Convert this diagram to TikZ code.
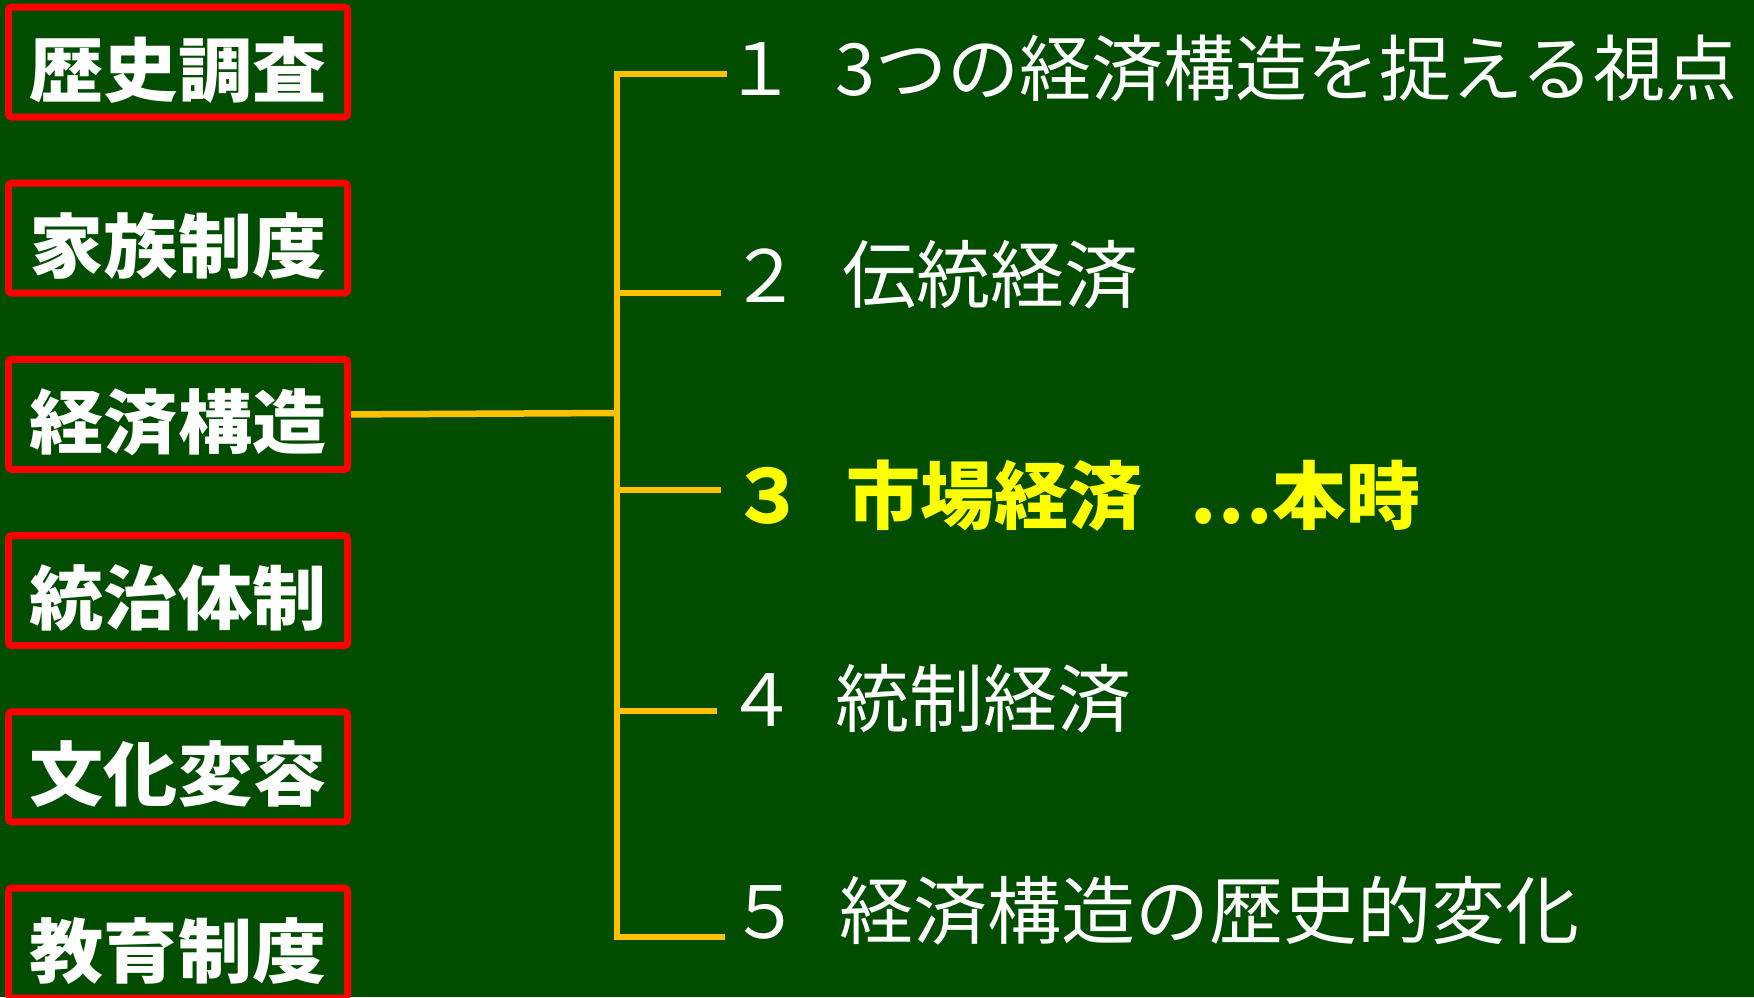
\documentclass[tikz,border=0pt]{standalone}
\usepackage{fontspec}
\newfontfamily\jp{Noto Sans CJK JP}
\newfontfamily\jpwide[FakeStretch=1.06]{Noto Sans CJK JP}
\definecolor{bg}{RGB}{0,77,0}
\definecolor{branch}{RGB}{255,192,0}
\definecolor{hl}{RGB}{255,255,0}
\begin{document}
\begin{tikzpicture}[x=1pt,y=-1pt,
  topic/.style={draw=red, line width=7pt, rounded corners=3pt,
    minimum width=339pt, minimum height=110pt, inner sep=0pt, text=white,
    text height=76pt, text depth=8pt,
    font=\jpwide\bfseries\fontsize{70pt}{70pt}\selectfont},
  itemnum/.style={anchor=base, inner sep=0pt, text=white,
    font=\jp\fontsize{72pt}{72pt}\selectfont},
  itemtext/.style={anchor=base west, inner sep=0pt, text=white,
    font=\jp\fontsize{74pt}{74pt}\selectfont},
  hot/.style={text=hl, font=\jp\bfseries\fontsize{74pt}{74pt}\selectfont},
  link/.style={draw=branch, line width=6.5pt}]
\fill[bg] (0,0) rectangle (1754,997);
\useasboundingbox (0,0) rectangle (1754,997);

% left topic boxes
\node[topic] (t1) at (178,62)    {歴史調査};
\node[topic] (t2) at (178,238.2) {家族制度};
\node[topic] (t3) at (178,414.4) {経済構造};
\node[topic] (t4) at (178,590.6) {統治体制};
\node[topic] (t5) at (178,766.8) {文化変容};
\node[topic] (t6) at (178,943)   {教育制度};

% bracket coordinates
\coordinate (top) at (617,74);
\coordinate (bot) at (617,937);
\coordinate (hub) at (617,413);
\coordinate (b2) at (617,293);
\coordinate (b3) at (617,490);
\coordinate (b4) at (617,711);
\coordinate (e1) at (727,74);
\coordinate (e2) at (721,293);
\coordinate (e3) at (721,490);
\coordinate (e4) at (717,711);
\coordinate (e5) at (725,937);

\draw[link] (t3.east) -- (hub);
\draw[link, line cap=rect] (top) -- (bot);
\draw[link] (top) -- (e1);
\draw[link] (b2) -- (e2);
\draw[link] (b3) -- (e3);
\draw[link] (b4) -- (e4);
\draw[link] (bot) -- (e5);

% items
\node[itemnum] (n1) at (760,95) {１};
\node[itemtext, font=\jp\fontsize{72pt}{72pt}\selectfont] (i1) at (835,95) {3つの経済構造を捉える視点};
\node[itemnum] (n2) at (765,302) {２};
\node[itemtext] (i2) at (842,302) {伝統経済};
\node[itemnum, hot] (n3) at (768,523) {３};
\node[itemtext, hot] (i3) at (846,523) {市場経済\hspace{47pt}…本時};
\node[itemnum] (n4) at (761,726) {４};
\node[itemtext] (i4) at (835,726) {統制経済};
\node[itemnum] (n5) at (765,938) {５};
\node[itemtext] (i5) at (839,938) {経済構造の歴史的変化};
\end{tikzpicture}
\end{document}
